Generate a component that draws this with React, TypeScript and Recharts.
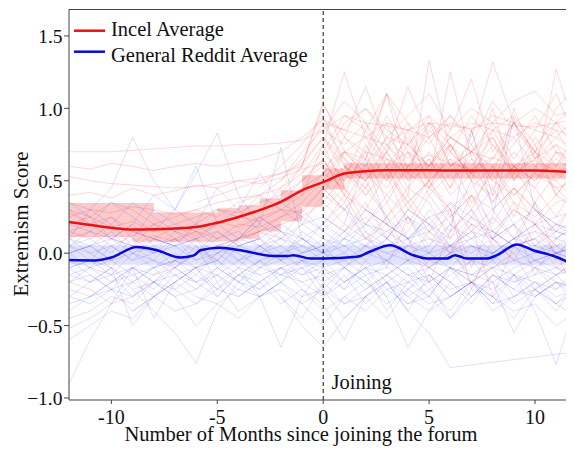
import React from "react";
import { ComposedChart, Line, Area, XAxis, YAxis, ReferenceLine } from "recharts";

const months = [-12, -11, -10, -9, -8, -7, -6, -5, -4, -3, -2, -1, 0, 1, 2, 3, 4, 5, 6, 7, 8, 9, 10, 11, 12];
const xTicks = [-10, -5, 0, 5, 10];
const yTicks = [-1, -0.5, 0, 0.5, 1, 1.5];

const incelAvg = [0.216, 0.195, 0.175, 0.163, 0.165, 0.17, 0.18, 0.21, 0.25, 0.297, 0.354, 0.434, 0.49, 0.55, 0.566, 0.572, 0.572, 0.572, 0.571, 0.57, 0.57, 0.57, 0.57, 0.566, 0.556];
const incelLow = [0.112, 0.112, 0.112, 0.078, 0.078, 0.078, 0.078, 0.08, 0.1, 0.15, 0.22, 0.32, 0.44, 0.515, 0.515, 0.515, 0.515, 0.515, 0.515, 0.515, 0.515, 0.515, 0.515, 0.515, 0.515];
const incelHigh = [0.347, 0.347, 0.347, 0.347, 0.28, 0.28, 0.28, 0.31, 0.33, 0.377, 0.434, 0.538, 0.584, 0.62, 0.62, 0.62, 0.62, 0.62, 0.62, 0.62, 0.62, 0.62, 0.62, 0.62, 0.62];
const redditLow = [-0.08, -0.08, -0.08, -0.08, -0.08, -0.08, -0.08, -0.08, -0.08, -0.08, -0.08, -0.08, -0.08, -0.08, -0.08, -0.08, -0.08, -0.08, -0.08, -0.08, -0.08, -0.08, -0.08, -0.08, -0.08];
const redditHigh = [0.055, 0.055, 0.055, 0.055, 0.055, 0.055, 0.055, 0.055, 0.055, 0.055, 0.055, 0.055, 0.055, 0.055, 0.055, 0.055, 0.055, 0.055, 0.055, 0.055, 0.055, 0.055, 0.055, 0.055, 0.055];

const redditAvgX = [-12, -10.8, -10, -8.8, -7.85, -6.75, -6.1, -5.8, -4.86, -3.9, -2.36, -1.7, -1.4, -0.6, 0, 1.59, 2.2, 3.16, 4.25, 4.9, 5.83, 6.23, 6.78, 7.72, 8.2, 9.14, 9.9, 10.85, 11.8];
const redditAvgY = [-0.048, -0.05, -0.03, 0.043, 0.02, -0.03, -0.015, 0.02, 0.037, 0.02, -0.02, -0.02, -0.014, -0.037, -0.037, -0.025, 0.01, 0.055, -0.014, -0.037, -0.037, -0.014, -0.037, -0.037, -0.014, 0.06, 0.02, -0.018, -0.078];

const N = null;
const incelUsers: (number | null)[][] = [
  [0.70, 0.70, 0.70, 0.71, 0.72, 0.73, 0.74, 0.74, 0.75, 0.75, 0.76, 0.78, 0.85, 0.95, 0.9, 0.88, 0.85, 0.9, 0.88, 0.86, 0.9, 0.88, 0.87, 0.9, 0.92],
  [0.53, 0.50, 0.48, 0.47, 0.46, 0.45, 0.46, 0.48, 0.5, 0.52, 0.55, 0.6, 1.02, 0.8, 0.7, 1.1, 0.75, 0.6, 0.8, 0.7, 0.65, 0.9, 0.7, 0.6, 0.75],
  [0.35, 0.3, 0.28, 0.32, 0.3, 0.27, 0.3, 0.35, 0.38, 0.4, 0.45, 0.55, 0.75, 1.25, 0.8, 0.6, 0.7, 0.5, 0.65, 0.55, 0.75, 0.6, 0.5, 0.7, 0.6],
  [0.2, 0.25, 0.18, 0.22, 0.15, 0.2, 0.25, 0.3, 0.28, 0.35, 0.4, 0.5, 0.6, 0.5, 0.65, 1.1, 0.55, 0.45, 0.6, 0.7, 0.5, 0.4, 0.55, 0.45, 0.5],
  [N, N, N, N, N, N, N, N, N, 0.45, 0.6, 0.75, 0.95, 0.6, 0.5, 0.65, 0.4, 1.33, 0.7, 0.55, 0.45, 0.6, 0.5, 0.65, 0.55],
  [N, N, N, N, N, N, N, N, N, N, 0.5, 0.7, 0.85, 0.75, 0.9, 0.6, 0.8, 0.5, 1.25, 0.65, 0.55, 0.9, 0.7, 0.4, 0.6],
  [0.1, 0.15, 0.05, 0.12, 0.2, 0.1, 0.15, 0.22, 0.18, 0.25, 0.3, 0.28, 0.45, 0.6, 0.4, 0.55, 0.35, 0.5, 0.3, 0.45, 0.6, 0.35, 0.25, 0.4, 0.3],
  [0.28, 0.2, 0.25, 0.15, 0.1, 0.18, 0.12, 0.2, 0.25, 0.22, 0.3, 0.4, 0.55, 0.45, 0.3, 0.2, 0.35, 0.15, 0.25, 0.4, 0.1, 0.3, 0.2, 0.05, 0.15],
  [N, N, N, N, N, N, N, N, N, N, N, 0.55, 0.7, 0.95, 0.85, 1.1, 0.9, 0.75, 0.95, 0.8, 1.32, 0.9, 0.85, 0.8, 0.95],
  [N, N, N, N, N, N, 0.35, 0.4, 0.45, 0.5, 0.55, 0.62, 0.8, 0.55, 0.45, 0.6, 0.35, 0.5, 0.25, 0.4, 0.3, 0.45, 0.2, 0.35, 0.4],
  [-0.2, -0.25, -0.35, -0.3, -0.15, -0.1, 0.0, 0.05, 0.1, 0.15, 0.2, 0.25, 0.35, 0.2, 0.1, 0.25, 0.0, -0.1, 0.05, -0.2, -0.1, 0.0, -0.25, -0.15, -0.05],
  [N, N, N, N, N, N, N, N, N, N, N, N, 0.6, 0.7, 0.55, 0.8, 0.65, 0.9, 0.6, 0.75, 0.5, 0.7, 0.55, 1.27, 0.8],
  [0.4, 0.42, 0.38, 0.45, 0.4, 0.43, 0.47, 0.45, 0.5, 0.48, 0.52, 0.58, 0.62, 0.55, 0.7, 0.65, 0.6, 0.68, 0.62, 0.58, 0.66, 0.6, 0.64, 0.57, 0.6],
  [N, N, N, N, N, N, N, N, N, N, 0.35, 0.5, 0.65, 0.4, 0.3, 0.55, 0.2, 0.45, 0.3, -0.1, 0.25, 0.1, 0.35, -0.05, 0.2],
  [N, N, N, N, N, N, N, N, N, N, N, N, 0.9, 0.85, 1.0, 0.8, 0.95, 1.1, 0.85, 1.0, 0.9, 1.05, 1.12, 0.95, 1.0],
  [0.15, 0.1, 0.2, 0.05, 0.12, 0.08, 0.15, 0.1, 0.2, 0.18, 0.25, 0.35, 0.5, 0.7, 0.55, 0.4, 0.6, 0.45, 0.75, 0.5, 0.4, 0.6, 0.35, 0.55, 0.45],
  [N, N, N, N, N, N, N, N, 0.25, 0.3, 0.45, 0.6, 1.05, 0.7, 0.65, 0.5, 0.75, 0.6, 0.8, 0.7, 0.6, 0.75, 0.95, 0.7, 0.65],
  [N, N, N, N, N, N, N, N, N, N, N, N, 0.3, 0.45, 0.2, 0.35, 0.1, -0.2, 0.15, 0.3, 0.05, 0.2, -0.15, 0.1, 0.25],
  [N, N, N, N, N, N, N, N, N, N, N, N, N, 0.8, 1.15, 0.75, 0.6, 0.85, 0.7, 0.95, 0.75, 0.55, 0.8, 0.6, 0.85],
  [0.05, 0.0, -0.1, 0.05, -0.05, 0.1, 0.02, -0.05, 0.08, 0.15, 0.1, 0.2, 0.4, 0.3, 0.45, 0.25, 0.4, 0.2, 0.35, 0.15, 0.3, 0.45, 0.3, 0.2, 0.35],
  [N, N, N, N, N, N, N, N, N, N, N, N, 0.5, 0.35, 0.6, 0.45, 0.7, 0.4, 0.55, 0.3, 0.6, 0.4, 0.55, 0.5, 0.35],
  [N, N, N, N, N, N, N, N, N, N, N, 0.45, 0.55, 0.7, 0.8, 0.75, 0.85, 0.8, 0.9, 0.85, 0.95, 0.9, 1.0, 0.9, 1.05],
  [N, N, N, N, N, N, N, N, N, N, N, N, N, N, 0.6, 0.9, 0.5, 0.7, 0.45, 0.85, 0.4, 1.0, 0.65, 0.9, 0.7],
  [N, N, N, -0.4, -0.3, -0.2, -0.1, 0.0, 0.1, 0.15, 0.25, 0.3, 0.45, 0.3, 0.1, 0.2, -0.05, 0.15, 0.0, 0.2, -0.3, 0.05, 0.1, -0.1, 0.0],
  [N, N, N, N, N, N, N, N, N, N, N, N, 0.7, 0.5, 0.85, 0.65, 0.55, 0.9, 0.75, 0.6, 0.8, 0.5, 0.7, 0.85, 0.6],
  [N, N, N, N, N, N, N, N, N, N, N, 0.4, 0.75, 0.45, 0.7, 0.35, 0.6, 0.8, 0.5, 0.65, 0.35, 0.55, 0.45, 0.7, 0.5],
  [0.3, 0.25, 0.35, 0.3, 0.2, 0.25, 0.3, 0.25, 0.35, 0.4, 0.5, 0.65, 0.9, 0.65, 0.5, 0.75, 0.55, 0.65, 0.45, 0.7, 0.8, 0.55, 0.65, 0.75, 0.5],
  [N, N, N, N, N, N, N, N, N, N, N, N, 0.45, 0.3, 0.5, 0.25, 0.45, 0.35, 0.1, 0.4, 0.2, 0.45, 0.3, 0.15, 0.4],
  [N, N, N, N, N, N, N, N, N, N, N, N, 0.85, 1.05, 0.9, 0.7, 1.15, 0.8, 0.95, 0.75, 1.05, 0.85, 0.7, 1.0, 1.15],
  [N, N, N, N, N, N, N, N, N, N, 0.4, 0.6, 0.8, 0.65, 0.55, 0.7, 0.5, 0.6, 0.75, 0.55, 0.65, 0.8, 0.6, 0.75, 0.65],
  [N, N, N, N, N, N, N, N, N, N, N, N, 0.2, 0.4, 0.15, -0.1, 0.25, 0.05, 0.3, -0.25, 0.1, -0.05, 0.2, 0.0, -0.3],
  [N, N, N, N, N, N, N, N, N, N, N, N, 0.55, 0.8, 0.65, 0.95, 0.7, 0.6, 0.85, 1.2, 0.7, 0.9, 0.65, 0.8, 0.7],
  [0.6, 0.58, 0.62, 0.6, 0.57, 0.6, 0.62, 0.6, 0.63, 0.65, 0.7, 0.8, 0.92, 0.85, 0.8, 0.9, 0.85, 0.95, 0.8, 0.9, 0.85, 0.8, 0.9, 0.85, 0.8],
  [N, N, N, N, N, N, N, N, N, N, N, N, 0.35, 0.55, 0.4, 0.6, 0.3, 0.5, 0.65, 0.35, 0.55, 0.25, 0.6, 0.45, 0.3],
  [N, N, N, N, N, N, N, N, N, N, N, N, 0.65, 0.4, 0.75, 0.5, 0.85, 0.45, 0.7, 0.55, 1.0, 0.5, 0.75, 0.4, 0.6],
  [N, N, N, N, N, N, N, N, N, N, N, 0.5, 0.65, 0.9, 1.0, 0.85, 0.75, 0.9, 0.8, 0.7, 0.85, 0.95, 0.75, 0.9, 0.8],
  [N, N, N, N, N, N, N, N, N, N, N, N, 0.25, 0.15, 0.35, 0.1, 0.3, 0.2, 0.0, 0.25, 0.1, 0.35, 0.05, 0.2, 0.1],
  [N, N, N, N, N, N, N, N, N, N, N, N, N, 0.6, 0.45, 0.7, 0.9, 0.55, 0.75, 0.5, 0.85, 0.6, 0.7, 0.5, 0.65],
  [N, N, N, N, N, N, N, N, N, N, N, N, 0.8, 0.6, 0.5, 0.7, 0.45, 0.65, 0.4, 0.55, 0.35, 0.6, 0.45, 0.25, 0.5],
  [N, N, N, N, N, N, N, N, N, N, N, N, 0.4, 0.7, 0.6, 0.8, 0.75, 0.95, 0.6, 0.7, 0.9, 0.65, 0.85, 1.1, 0.75],
];

const redditUsers: (number | null)[][] = [
  [-0.9, -0.6, -0.35, -0.1, -0.2, -0.15, -0.25, -0.1, -0.2, -0.05, -0.15, -0.1, -0.2, -0.1, -0.25, -0.15, -0.05, -0.2, -0.1, -0.3, -0.15, -0.2, -0.1, -0.25, -0.15],
  [0.1, 0.3, 0.45, 0.8, 0.5, 0.3, 0.55, 0.83, 0.4, 0.2, 0.1, 0.3, 0.15, 0.05, 0.2, 0.1, 0.25, 0.0, 0.15, 0.3, 0.1, 0.2, 0.0, 0.1, 0.05],
  [-0.3, -0.2, -0.1, -0.25, -0.4, -0.55, -0.76, -0.4, -0.2, -0.3, -0.65, -0.3, -0.1, -0.25, -0.15, -0.4, -0.2, -0.3, -0.1, -0.2, -0.35, -0.15, -0.25, -0.4, -0.2],
  [0.0, 0.05, -0.05, 0.1, 0.0, 0.15, 0.05, -0.05, 0.1, 0.2, 0.73, 0.1, 0.0, 0.15, 0.05, 0.25, 0.1, 0.0, 0.2, 0.05, -0.05, 0.1, 0.15, 0.0, 0.05],
  [-0.45, -0.4, -0.3, -0.35, -0.2, -0.3, -0.25, -0.15, -0.3, -0.2, -0.1, -0.15, -0.05, -0.2, -0.1, -0.3, -0.65, -0.4, -0.2, -0.35, -0.15, -0.25, -0.3, -0.2, -0.35],
  [-0.52, -0.45, -0.35, -0.2, -0.1, -0.25, -0.15, 0.0, -0.1, 0.05, -0.05, 0.1, 0.0, -0.1, 0.05, -0.05, 0.1, -0.1, 0.0, 0.1, -0.05, 0.05, -0.1, 0.0, -0.05],
  [N, N, N, N, N, N, N, N, N, N, N, N, N, N, N, -0.2, -0.4, -0.55, -0.79, N, N, N, N, N, -0.68],
  [-0.2, -0.1, -0.15, 0.0, -0.05, -0.1, 0.05, -0.2, -0.1, -0.3, -0.2, -0.05, -0.25, -0.1, -0.2, -0.05, -0.15, -0.3, -0.1, -0.2, 0.0, -0.15, -0.4, -0.77, -0.3],
  [0.05, 0.1, 0.0, 0.15, 0.1, 0.05, 0.2, 0.1, 0.15, 0.05, 0.1, 0.0, 0.05, 0.1, 0.2, 0.15, 0.05, 0.3, 0.15, 0.85, 0.3, 0.1, 0.2, 0.15, 0.1],
  [-0.1, -0.05, -0.15, -0.1, -0.2, -0.05, -0.15, -0.25, -0.1, -0.15, -0.3, -0.45, -0.2, -0.35, -0.25, -0.15, -0.3, -0.2, -0.45, -0.3, -0.2, -0.35, -0.25, -0.15, -0.3],
  [0.2, 0.15, 0.25, 0.1, 0.3, 0.2, 0.15, 0.05, 0.1, 0.25, 0.15, 0.1, 0.2, 0.35, 0.1, 0.05, 0.15, 0.4, 0.2, 0.1, 0.25, 0.94, 0.3, 0.2, 0.15],
  [-0.35, -0.3, -0.25, -0.3, -0.2, -0.25, -0.35, -0.2, -0.4, -0.3, -0.25, -0.35, -0.5, -0.3, -0.4, -0.25, -0.35, -0.3, -0.45, -0.25, -0.3, -0.4, -0.35, -0.5, -0.4],
  [0.0, -0.1, 0.05, -0.05, 0.0, 0.1, -0.05, 0.05, 0.0, -0.1, 0.0, 0.05, -0.05, 0.1, 0.0, -0.05, 0.05, 0.0, -0.1, 0.05, 0.0, 0.1, -0.05, 0.0, 0.05],
  [-0.15, -0.2, -0.1, -0.5, -0.3, -0.2, -0.1, -0.25, -0.15, -0.05, -0.2, -0.1, -0.3, -0.15, -0.35, -0.2, -0.1, -0.25, -0.15, -0.05, -0.2, -0.55, -0.3, -0.2, -0.25],
  [0.3, 0.2, 0.35, 0.25, 0.15, 0.3, 0.6, 0.2, 0.1, 0.25, 0.15, 0.05, 0.2, 0.1, 0.3, 0.2, 0.1, 0.15, 0.05, 0.2, 0.1, 0.0, 0.15, 0.1, 0.2],
  [-0.05, -0.15, -0.25, -0.1, -0.45, -0.2, -0.1, -0.3, -0.15, -0.2, -0.1, -0.25, -0.35, -0.6, -0.3, -0.15, -0.25, -0.1, -0.2, -0.3, -0.15, -0.25, -0.1, -0.2, -0.3],
  [0.1, 0.05, 0.15, 0.0, 0.1, 0.05, 0.1, 0.15, 0.05, 0.1, 0.0, 0.1, 0.05, 0.15, 0.25, 0.1, 0.3, 0.2, 0.1, 0.25, 0.15, 0.05, 0.35, 0.1, 0.2],
  [-0.25, -0.3, -0.2, -0.15, -0.25, -0.1, -0.2, -0.15, -0.05, -0.15, -0.1, -0.2, -0.15, -0.25, -0.05, -0.2, -0.4, -0.15, -0.3, -0.2, -0.1, -0.3, -0.2, -0.35, -0.25],
  [0.05, -0.05, 0.1, 0.0, 0.05, -0.1, 0.0, 0.1, -0.05, 0.05, 0.15, 0.0, 0.1, 0.05, -0.05, 0.1, 0.0, 0.05, 0.2, 0.5, 0.15, 0.05, 0.1, 0.0, 0.05],
  [-0.6, -0.5, -0.4, -0.45, -0.3, -0.4, -0.35, -0.25, -0.3, -0.2, -0.35, -0.25, -0.4, -0.3, -0.2, -0.35, -0.25, -0.15, -0.3, -0.2, -0.25, -0.15, -0.3, -0.2, -0.25],
  [0.15, 0.2, 0.1, 0.05, 0.2, 0.15, 0.1, 0.2, 0.3, 0.15, 0.05, 0.2, 0.1, 0.0, 0.15, 0.05, 0.1, 0.2, 0.05, 0.15, 0.0, 0.1, 0.2, 0.05, 0.1],
  [-0.1, -0.2, -0.15, -0.3, -0.2, -0.1, -0.2, -0.3, -0.15, -0.25, -0.1, -0.05, -0.15, -0.1, -0.2, -0.3, -0.15, -0.2, -0.1, -0.15, -0.05, -0.2, -0.15, -0.1, -0.2],
  [0.0, 0.05, -0.05, 0.0, -0.1, -0.05, 0.0, 0.05, -0.05, 0.0, 0.05, -0.05, 0.0, -0.05, 0.05, 0.0, -0.05, 0.0, 0.05, -0.05, 0.0, 0.05, -0.05, 0.0, -0.05],
  [-0.4, -0.3, -0.2, -0.1, -0.15, -0.05, 0.1, -0.1, 0.05, 0.1, -0.05, 0.15, 0.05, 0.2, 0.65, 0.2, 0.1, 0.25, 0.05, 0.1, 0.15, 0.05, 0.1, 0.2, 0.15],
  [-0.05, -0.1, -0.2, -0.1, -0.05, -0.15, -0.1, -0.05, -0.2, -0.1, -0.15, -0.05, -0.1, -0.2, -0.1, -0.05, -0.15, -0.1, -0.2, -0.05, -0.1, -0.15, -0.05, -0.1, -0.15],
  [0.1, 0.0, 0.05, -0.05, 0.1, 0.05, -0.05, 0.0, 0.1, 0.05, -0.05, 0.0, 0.05, -0.1, 0.0, 0.1, 0.0, -0.05, 0.05, 0.0, 0.1, -0.05, 0.0, 0.05, -0.05],
  [-0.2, -0.15, -0.25, -0.2, -0.3, -0.15, -0.2, -0.1, -0.2, -0.25, -0.15, -0.2, -0.3, -0.2, -0.1, -0.25, -0.2, -0.15, -0.25, -0.2, -0.3, -0.15, -0.2, -0.25, -0.1],
  [N, N, N, N, N, N, N, N, N, N, -0.3, -0.5, -0.65, -0.45, -0.3, -0.2, -0.35, -0.25, -0.4, -0.2, -0.3, -0.45, -0.25, -0.35, -0.2],
  [0.25, 0.3, 0.2, 0.35, 0.25, 0.15, 0.2, 0.3, 0.25, 0.4, 0.3, 0.2, 0.25, 0.15, 0.3, 0.2, 0.1, 0.25, 0.3, 0.2, 0.15, 0.3, 0.2, 0.25, 0.3],
  [-0.15, -0.1, -0.05, -0.15, -0.1, 0.0, -0.1, -0.05, -0.15, -0.05, 0.0, -0.1, -0.05, 0.0, -0.1, -0.15, -0.05, -0.1, 0.0, -0.15, -0.1, -0.05, -0.1, -0.15, -0.05],
  [0.05, 0.15, 0.1, 0.2, 0.05, 0.1, 0.0, 0.15, 0.05, 0.1, 0.2, 0.1, 0.0, 0.1, 0.05, 0.15, 0.25, 0.1, 0.05, 0.15, 0.1, 0.2, 0.05, 0.15, 0.1],
  [-0.3, -0.35, -0.25, -0.4, -0.3, -0.2, -0.3, -0.35, -0.45, -0.3, -0.2, -0.3, -0.25, -0.35, -0.3, -0.45, -0.25, -0.35, -0.3, -0.2, -0.4, -0.3, -0.25, -0.35, -0.45],
  [0.35, 0.25, 0.1, 0.2, 0.4, 0.3, 0.2, 0.45, 0.3, 0.55, 0.35, 0.25, 0.15, 0.3, 0.2, 0.4, 0.25, 0.15, 0.35, 0.25, 0.45, 0.2, 0.3, 0.15, 0.25],
  [-0.1, -0.05, -0.1, -0.2, -0.1, -0.05, -0.1, -0.15, -0.25, -0.1, -0.05, -0.15, -0.1, -0.05, -0.15, -0.1, -0.2, -0.05, -0.1, -0.15, -0.2, -0.1, -0.05, -0.15, -0.1],
  [N, N, N, -0.25, -0.2, -0.3, -0.5, -0.35, -0.25, -0.3, -0.2, -0.35, -0.25, -0.45, -0.3, -0.2, -0.3, -0.4, -0.3, -0.2, -0.35, -0.3, -0.2, -0.3, -0.25],
  [0.0, 0.05, 0.1, 0.05, 0.0, 0.05, 0.1, 0.0, 0.05, 0.0, 0.1, 0.05, 0.0, 0.05, 0.1, 0.0, 0.05, 0.1, 0.0, 0.05, 0.0, 0.1, 0.05, 0.0, 0.1],
];

const rows = months.map((m, i) => {
  const row: Record<string, any> = {
    x: m,
    incelAvg: incelAvg[i],
    incelBand: [incelLow[i], incelHigh[i]],
    redditBand: [redditLow[i], redditHigh[i]],
  };
  incelUsers.forEach((u, k) => (row["r" + k] = u[i]));
  redditUsers.forEach((u, k) => (row["b" + k] = u[i]));
  return row;
});

const redditAvgData = redditAvgX.map((x, i) => ({ x, redditAvg: redditAvgY[i] }));

const FONT = "'Liberation Serif', 'Times New Roman', serif";
const AXIS = "#444";
const TXT = "#111";

const fmtY = (v: number) => {
  const s = Math.abs(v).toFixed(1);
  return v < 0 ? "\u2212" + s : s;
};
const fmtX = (v: number) => String(v);

const XTick = (props: any) => {
  const { x, payload } = props;
  return (
    <text x={x} y={416} textAnchor="middle" fontSize={20} style={{ fontFamily: FONT }} fill={TXT}>
      {fmtX(payload.value)}
    </text>
  );
};

const YTick = (props: any) => {
  const { x, y, payload } = props;
  return (
    <text x={x + 0.5} y={y + 7.3} textAnchor="end" fontSize={19.5} style={{ fontFamily: FONT }} fill={TXT}>
      {fmtY(payload.value)}
    </text>
  );
};

export default function App() {
  const W = 566;
  const H = 441;
  return (
    <div style={{ position: "relative", width: W, height: H, fontFamily: FONT }}>
      <ComposedChart width={W} height={H} data={rows} margin={{ top: 1, right: 0, left: 0, bottom: 0 }}>
        <XAxis
          dataKey="x"
          type="number"
          domain={[-12, 11.84]}
          ticks={xTicks}
          allowDataOverflow
          height={49}
          tickSize={4}
          tickMargin={0}
          stroke={AXIS}
          tick={<XTick />}
        />
        <YAxis
          type="number"
          domain={[-1.014, 1.686]}
          ticks={yTicks}
          allowDataOverflow
          width={61}
          tickSize={5}
          tickMargin={2}
          stroke={AXIS}
          tick={<YTick />}
        />
        {incelUsers.map((_, k) => (
          <Line
            key={"r" + k}
            dataKey={"r" + k}
            type="linear"
            stroke="#ff1a1a"
            strokeOpacity={0.17}
            strokeWidth={1}
            dot={false}
            connectNulls
            isAnimationActive={false}
          />
        ))}
        {redditUsers.map((_, k) => (
          <Line
            key={"b" + k}
            dataKey={"b" + k}
            type="linear"
            stroke="#1a1aff"
            strokeOpacity={0.14}
            strokeWidth={1}
            dot={false}
            connectNulls
            isAnimationActive={false}
          />
        ))}
        <Area
          dataKey="incelBand"
          type="stepAfter"
          stroke="none"
          fill="#f04040"
          fillOpacity={0.28}
          isAnimationActive={false}
        />
        <Area
          dataKey="redditBand"
          type="stepAfter"
          stroke="none"
          fill="#3040f0"
          fillOpacity={0.14}
          isAnimationActive={false}
        />
        <ReferenceLine x={0} stroke="#111" strokeDasharray="4 3" strokeWidth={1} />
        <Line dataKey="incelAvg" type="monotone" stroke="#ee1111" strokeWidth={2.5} dot={false} isAnimationActive={false} />
        <Line
          data={redditAvgData}
          dataKey="redditAvg"
          type="monotone"
          stroke="#0a0ad8"
          strokeWidth={2.5}
          dot={false}
          isAnimationActive={false}
        />
      </ComposedChart>
      <svg width={W} height={H} style={{ position: "absolute", left: 0, top: 0, pointerEvents: "none", fontFamily: FONT }}>
        <line x1={61} y1={1.5} x2={W} y2={1.5} stroke={AXIS} strokeWidth={1} />
        <line x1={66} y1={22.7} x2={97} y2={22.7} stroke="#ee1111" strokeWidth={2.5} />
        <line x1={66} y1={43.7} x2={97} y2={43.7} stroke="#0a0ad8" strokeWidth={2.5} />
        <text x={103} y={27.5} fontSize={20.5} fill={TXT}>Incel Average</text>
        <text x={103} y={53.5} fontSize={20.5} fill={TXT}>General Reddit Average</text>
        <text x={323.5} y={381} fontSize={20.5} fill={TXT}>Joining</text>
        <text x={293} y={433} fontSize={20.5} fill={TXT} textAnchor="middle">
          Number of Months since joining the forum
        </text>
        <text transform="translate(20,216) rotate(-90)" fontSize={21} fill={TXT} textAnchor="middle">
          Extremism Score
        </text>
      </svg>
    </div>
  );
}
